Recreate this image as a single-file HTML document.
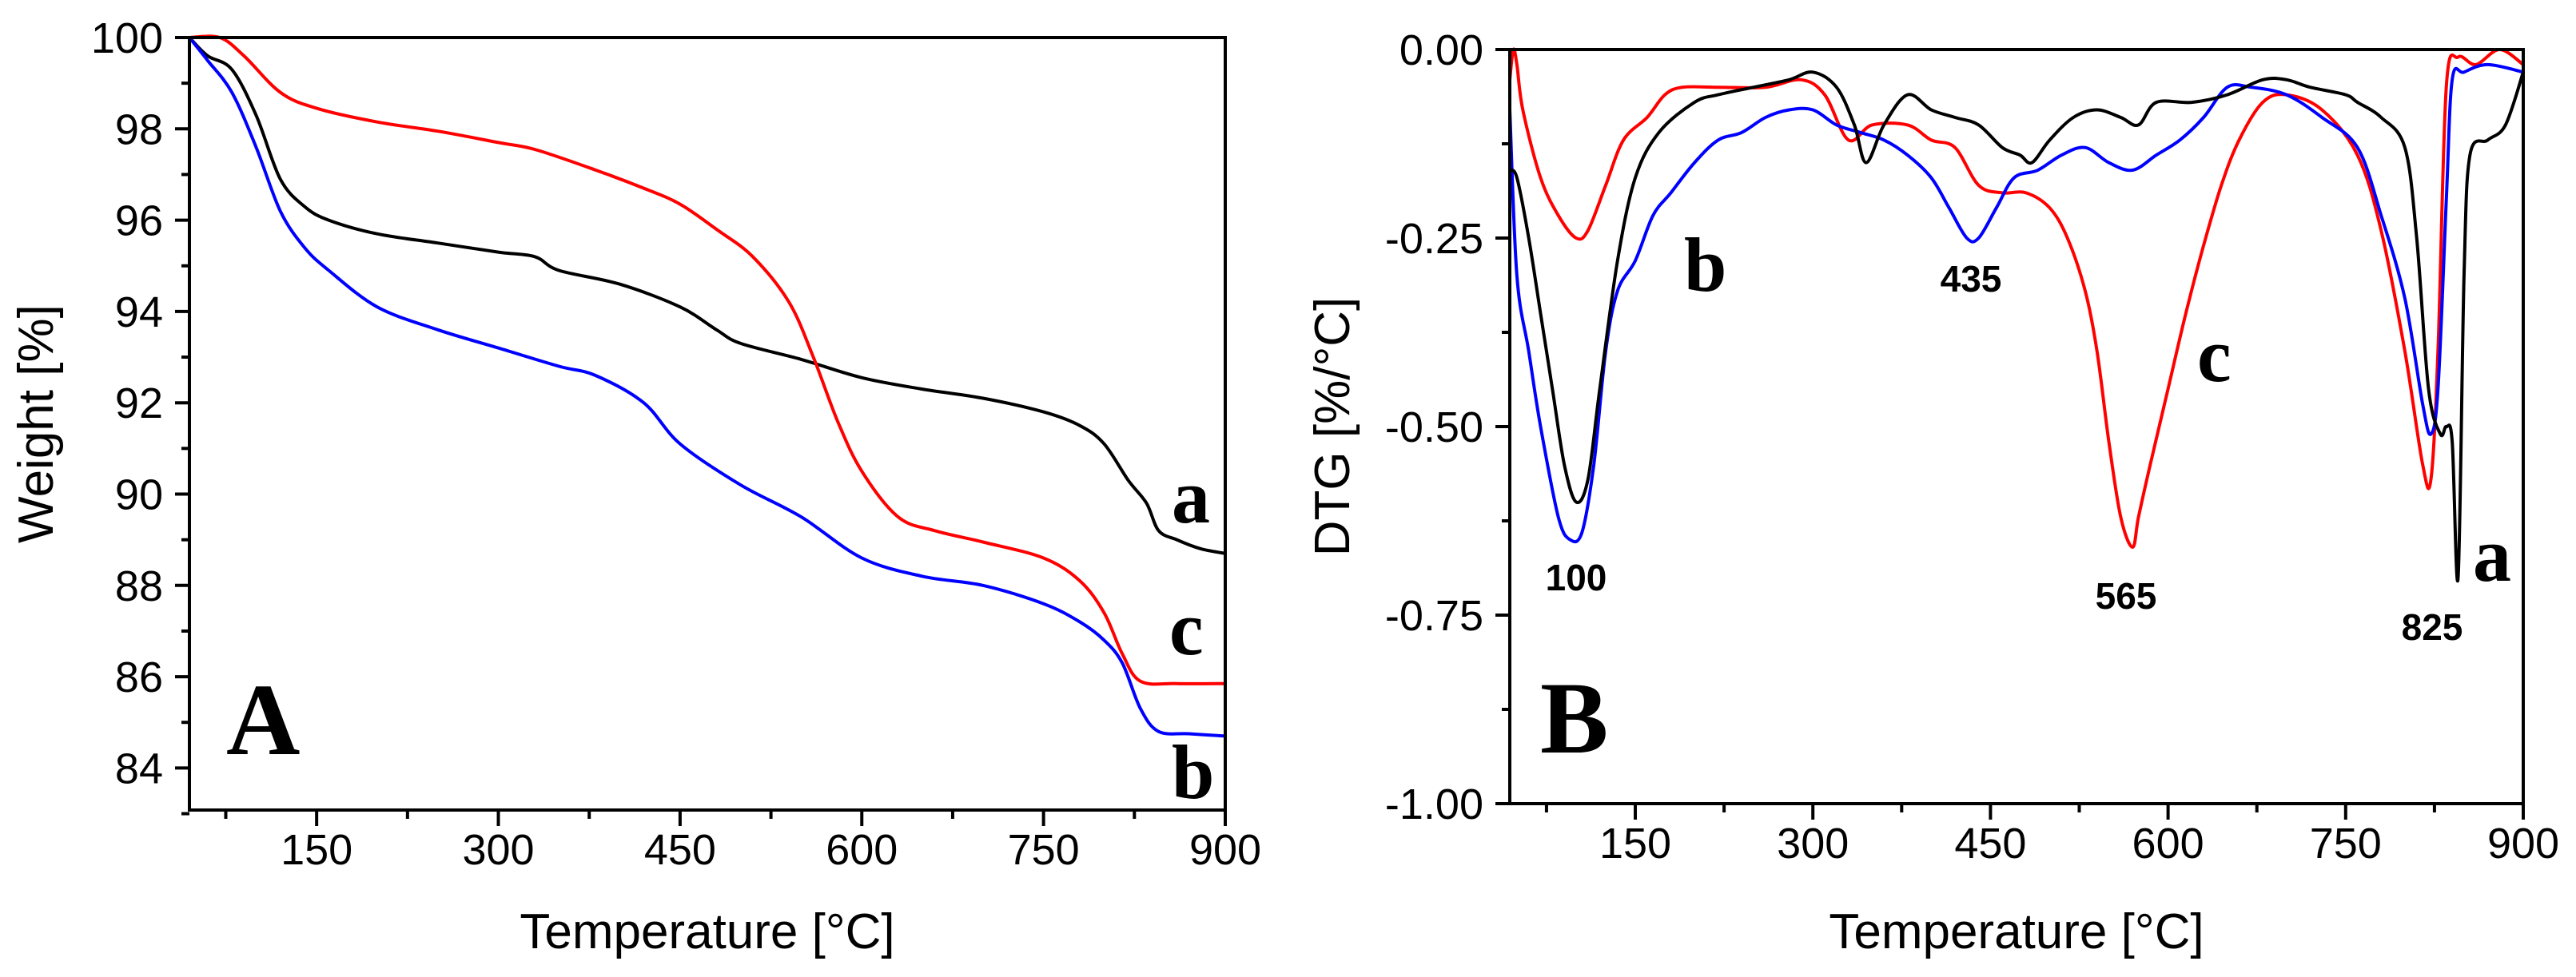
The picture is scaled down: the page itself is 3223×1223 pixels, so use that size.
<!DOCTYPE html>
<html><head><meta charset="utf-8"><title>TGA / DTG</title>
<style>
html,body{margin:0;padding:0;background:#fff;}
svg{display:block;}
text{font-family:"Liberation Sans",Arial,sans-serif;fill:#000;}
.serif{font-family:"Liberation Serif","Times New Roman",serif;font-weight:bold;}
</style></head>
<body>
<svg id="fig" width="3223" height="1223" viewBox="0 0 3223 1223" xmlns="http://www.w3.org/2000/svg"></svg>
<script>
// ---- Panel A data (TGA weight %) ----
const tgaTempA = [45,60,80,100,120,140,160,200,250,300,330,350,400,450,480,500,550,600,650,700,750,780,800,820,835,845,860,880,900];
const tgaWeightA = [100,99.6,99.3,98.3,96.9,96.3,96.0,95.7,95.5,95.3,95.2,94.9,94.6,94.1,93.6,93.3,92.95,92.55,92.3,92.1,91.8,91.5,91.1,90.3,89.8,89.2,89.0,88.8,88.7];
const tgaTempB = [45,60,80,100,120,140,160,200,250,300,350,380,420,450,500,550,600,650,700,750,780,800,815,830,845,870,900];
const tgaWeightB = [100,99.5,98.8,97.6,96.2,95.4,94.9,94.1,93.6,93.2,92.8,92.6,92.0,91.1,90.2,89.5,88.6,88.2,88.0,87.6,87.2,86.8,86.3,85.3,84.8,84.75,84.7];
const tgaTempC = [45,70,90,120,150,200,250,300,330,380,420,450,480,510,540,560,580,600,630,660,700,750,780,800,815,830,860,900];
const tgaWeightC = [100,100,99.6,98.8,98.45,98.15,97.95,97.7,97.55,97.1,96.7,96.35,95.8,95.2,94.2,93.0,91.6,90.5,89.5,89.2,88.95,88.6,88.1,87.4,86.5,85.9,85.85,85.85];
const tgaYTicks = [84,86,88,90,92,94,96,98,100];
const xTickLabels = [150,300,450,600,750,900];

// ---- Panel B data (DTG %/°C) ----
const dtgTempA = [44,50,60,70,80,90,100,110,120,135,150,170,200,220,250,280,300,320,335,345,360,380,400,420,440,460,475,485,500,520,540,560,575,590,620,650,680,700,720,750,760,780,800,810,820,830,835,840,845,850,855,870,885,900];
const dtgValA = [-0.16,-0.17,-0.25,-0.35,-0.45,-0.55,-0.60,-0.57,-0.45,-0.28,-0.17,-0.11,-0.07,-0.06,-0.05,-0.04,-0.03,-0.05,-0.10,-0.15,-0.10,-0.06,-0.08,-0.09,-0.10,-0.13,-0.14,-0.15,-0.12,-0.09,-0.08,-0.09,-0.10,-0.07,-0.07,-0.06,-0.04,-0.04,-0.05,-0.06,-0.07,-0.09,-0.13,-0.25,-0.45,-0.51,-0.50,-0.52,-0.70,-0.30,-0.14,-0.12,-0.10,-0.03];
const dtgTempB = [44,50,60,70,85,95,105,115,125,135,150,165,180,200,220,240,260,280,300,320,340,360,380,400,415,430,440,455,470,490,510,530,550,570,590,610,630,650,670,700,730,760,780,800,815,822,828,835,840,850,870,900];
const dtgValB = [-0.08,-0.30,-0.40,-0.50,-0.62,-0.65,-0.64,-0.55,-0.40,-0.32,-0.28,-0.22,-0.19,-0.15,-0.12,-0.11,-0.09,-0.08,-0.08,-0.10,-0.11,-0.12,-0.14,-0.17,-0.21,-0.25,-0.25,-0.21,-0.17,-0.16,-0.14,-0.13,-0.15,-0.16,-0.14,-0.12,-0.09,-0.05,-0.05,-0.06,-0.09,-0.13,-0.22,-0.33,-0.47,-0.51,-0.45,-0.20,-0.04,-0.03,-0.02,-0.03];
const dtgTempC = [44,47,50,55,70,85,100,110,125,140,160,175,190,220,260,290,310,330,350,380,400,420,440,460,480,500,515,530,540,550,560,570,575,585,600,615,630,645,660,680,700,730,760,780,800,815,822,828,835,845,860,880,900];
const dtgValC = [-0.04,0.0,-0.02,-0.08,-0.17,-0.22,-0.25,-0.24,-0.18,-0.12,-0.09,-0.06,-0.05,-0.05,-0.05,-0.04,-0.06,-0.12,-0.10,-0.10,-0.12,-0.13,-0.18,-0.19,-0.19,-0.21,-0.25,-0.32,-0.40,-0.52,-0.62,-0.66,-0.62,-0.55,-0.45,-0.35,-0.26,-0.18,-0.12,-0.07,-0.06,-0.08,-0.14,-0.24,-0.40,-0.55,-0.57,-0.40,-0.05,-0.01,-0.02,0.0,-0.02];
const dtgYTicks = [0,-0.25,-0.5,-0.75,-1.0];
const dtgYLabels = ["0.00","-0.25","-0.50","-0.75","-1.00"];

const NS = "http://www.w3.org/2000/svg";
const svg = document.getElementById('fig');
function mk(tag, attrs, parent){
  const e = document.createElementNS(NS, tag);
  for (const k in attrs) e.setAttribute(k, attrs[k]);
  (parent||svg).appendChild(e);
  return e;
}
function smoothPath(pts){
  let d = 'M' + pts[0][0].toFixed(1) + ',' + pts[0][1].toFixed(1);
  for (let i = 0; i < pts.length - 1; i++) {
    const p0 = pts[Math.max(0,i-1)], p1 = pts[i], p2 = pts[i+1], p3 = pts[Math.min(pts.length-1,i+2)];
    const c1x = p1[0] + (p2[0]-p0[0])/6, c1y = p1[1] + (p2[1]-p0[1])/6;
    const c2x = p2[0] - (p3[0]-p1[0])/6, c2y = p2[1] - (p3[1]-p1[1])/6;
    d += ' C' + c1x.toFixed(1) + ',' + c1y.toFixed(1) + ' ' + c2x.toFixed(1) + ',' + c2y.toFixed(1) + ' ' + p2[0].toFixed(1) + ',' + p2[1].toFixed(1);
  }
  return d;
}

function panel(cfg){
  const g = mk('g', {});
  
  
  const X = v => cfg.L + (v - cfg.x0) / (cfg.x1 - cfg.x0) * (cfg.R - cfg.L);
  const Y = v => cfg.T + (cfg.y1 - v) / (cfg.y1 - cfg.y0) * (cfg.B - cfg.T);
  cfg.series.forEach(s => {
    const pts = s.t.map((t,i) => [X(t), Y(s.v[i])]);
    const p = mk('path', {d:smoothPath(pts), fill:'none', stroke:s.color, 'stroke-width':4, 'stroke-linejoin':'round'}, g);
    
    
  });
  const fr = mk('rect', {x:cfg.L, y:cfg.T, width:cfg.R-cfg.L, height:cfg.B-cfg.T, fill:'none', stroke:'#000', 'stroke-width':4}, g);
  
  
  for (let v = 75; v <= 900; v += 75) {
    const major = v % 150 === 0;
    const tk = mk('line', {x1:X(v), x2:X(v), y1:cfg.B, y2:cfg.B + (major?20:11), stroke:'#000', 'stroke-width':4}, g);
    
    
  }
  xTickLabels.forEach(v => {
    const t = mk('text', {x:X(v), y:cfg.B + 68, 'text-anchor':'middle', 'font-size':54}, g);
    t.textContent = v;
    
    
  });
  cfg.yTicks.forEach((v,i) => {
    const tk = mk('line', {x1:cfg.L-18, x2:cfg.L, y1:Y(v), y2:Y(v), stroke:'#000', 'stroke-width':4}, g);
    
    
    const t = mk('text', {x:cfg.L-33, y:Y(v)+19, 'text-anchor':'end', 'font-size':54}, g);
    t.textContent = cfg.yLabels[i];
    
    
  });
  cfg.yMinor.forEach(v => {
    const tk = mk('line', {x1:cfg.L-10, x2:cfg.L, y1:Y(v), y2:Y(v), stroke:'#000', 'stroke-width':4}, g);
    
    
  });
  const xt = mk('text', {x:(cfg.L+cfg.R)/2, y:1187, 'text-anchor':'middle', 'font-size':62}, g);
  xt.textContent = 'Temperature [°C]';
  
  
  const yt = mk('text', {x:0, y:0, 'text-anchor':'middle', 'font-size':62, transform:'translate(' + cfg.ytX + ',' + ((cfg.T+cfg.B)/2) + ') rotate(-90)'}, g);
  yt.textContent = cfg.yTitle;
  
  
  cfg.notes.forEach(n => {
    const t = mk('text', {x:n.x, y:n.y, 'font-size':n.fs, 'class':n.serif?'serif':'', 'font-weight':'bold', 'text-anchor':n.anchor||'start'}, g);
    t.textContent = n.text;
    
    
  });
}

panel({
  name:'panel-a-tga', L:237, R:1533, T:47, B:1014, x0:45, x1:900, y0:100-967/57.15, y1:100,
  yTicks:tgaYTicks, yLabels:tgaYTicks.map(String), yMinor:[83,85,87,89,91,93,95,97,99],
  yTitle:'Weight [%]', ytX:66,
  series:[
    {name:'tga-curve-a', t:tgaTempA, v:tgaWeightA, color:'#000000'},
    {name:'tga-curve-b', t:tgaTempB, v:tgaWeightB, color:'#0000ff'},
    {name:'tga-curve-c', t:tgaTempC, v:tgaWeightC, color:'#ff0000'}
  ],
  notes:[
    {name:'panel-label-a', text:'A', x:283, y:944, fs:128, serif:true},
    {name:'curve-label-a', text:'a', x:1466, y:654, fs:96, serif:true},
    {name:'curve-label-c', text:'c', x:1463, y:819, fs:96, serif:true},
    {name:'curve-label-b', text:'b', x:1466, y:999, fs:96, serif:true}
  ]
});

panel({
  name:'panel-b-dtg', L:1889, R:3157, T:62, B:1006, x0:44, x1:900, y0:-1, y1:0,
  yTicks:dtgYTicks, yLabels:dtgYLabels, yMinor:[-0.125,-0.375,-0.625,-0.875],
  yTitle:'DTG [%/°C]', ytX:1688,
  series:[
    {name:'dtg-curve-c', t:dtgTempC, v:dtgValC, color:'#ff0000'},
    {name:'dtg-curve-b', t:dtgTempB, v:dtgValB, color:'#0000ff'},
    {name:'dtg-curve-a', t:dtgTempA, v:dtgValA, color:'#000000'}
  ],
  notes:[
    {name:'panel-label-b', text:'B', x:1927, y:942, fs:128, serif:true},
    {name:'curve-label-b', text:'b', x:2107, y:364, fs:96, serif:true},
    {name:'curve-label-c', text:'c', x:2749, y:477, fs:96, serif:true},
    {name:'curve-label-a', text:'a', x:3094, y:727, fs:96, serif:true},
    {name:'peak-label-100', text:'100', x:1972, y:739, fs:46, anchor:'middle'},
    {name:'peak-label-435', text:'435', x:2466, y:365, fs:46, anchor:'middle'},
    {name:'peak-label-565', text:'565', x:2660, y:762, fs:46, anchor:'middle'},
    {name:'peak-label-825', text:'825', x:3043, y:801, fs:46, anchor:'middle'}
  ]
});
</script>
</body></html>
